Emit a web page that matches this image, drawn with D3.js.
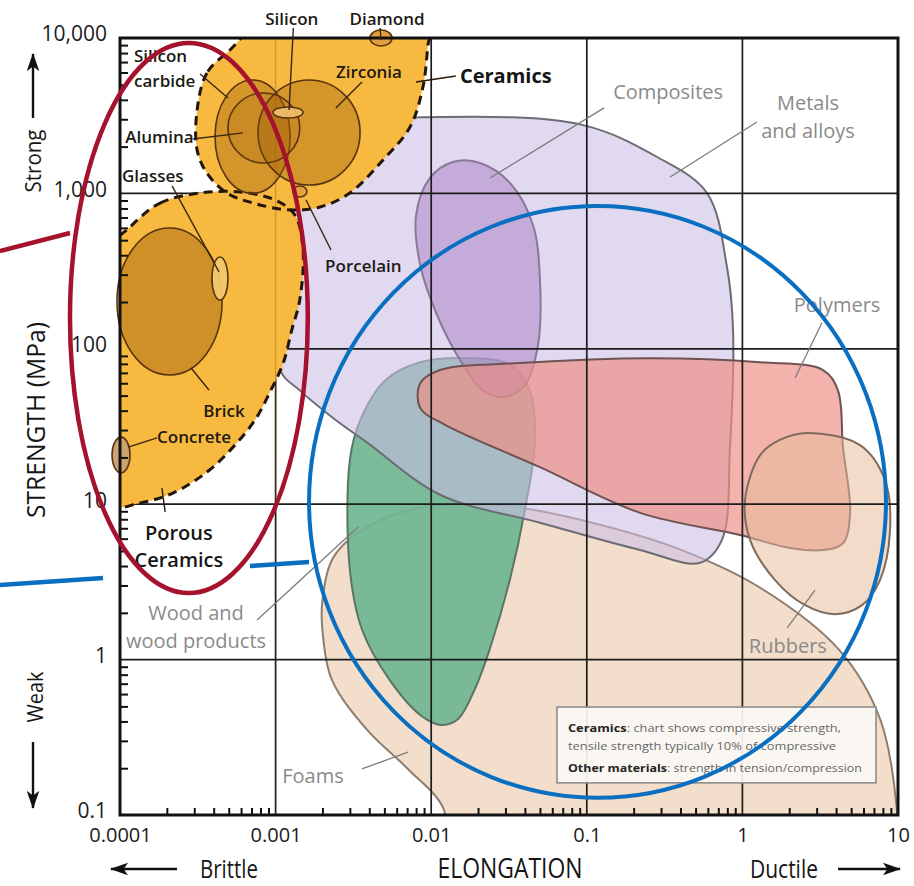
<!DOCTYPE html>
<html>
<head>
<meta charset="utf-8">
<script src="https://cdn.jsdelivr.net/npm/d3@7"></script>
<style>
  body { margin: 0; background: #ffffff; }
  svg { display: block; font-family: "Open Sans", "DejaVu Sans", sans-serif; }
</style>
</head>
<body>
<svg id="chart" width="914" height="886"></svg>
<script>
// ---------- axis ticks ----------
const elongTicks = [1e-4, 1e-3, 1e-2, 0.1, 1, 10];
const elongTickLabels = ["0.0001", "0.001", "0.01", "0.1", "1", "10"];
const strengthTicks = [0.1, 1, 10, 100, 1000, 10000];
const strengthTickLabels = ["0.1", "1", "10", "100", "1,000", "10,000"];

// ---------- material family envelopes: [elongation, strength MPa] ----------
const foams = [[0.002,2.4],[0.0024,4.7],[0.0047,7.9],[0.0114,9.9],[0.037,9.5],[0.12,7.4],[0.4,5.1],[1.3,2.9],[4.2,1.15],[7.7,0.41],[9.9,0.1],[9.9,0.05],[0.013,0.05],[0.012,0.11],[0.007,0.2],[0.0039,0.35],[0.0023,0.74],[0.002,1.55]];
const wood = [[0.003,19.2],[0.0035,34.8],[0.0051,63],[0.0085,82],[0.0178,87],[0.032,79],[0.043,54],[0.0465,26],[0.04,9.2],[0.032,3.25],[0.024,1.2],[0.019,0.64],[0.0147,0.41],[0.0114,0.38],[0.0085,0.44],[0.0054,0.74],[0.0036,1.55],[0.003,3.8]];
const metals = [[0.00107,73],[0.00104,373],[0.00143,1640],[0.003,2750],[0.0114,3100],[0.0946,2750],[0.283,1715],[0.592,1006],[0.796,336],[0.871,132],[0.832,23.3],[0.739,5.9],[0.534,4.2],[0.22,5.07],[0.05,7.6],[0.0114,11.5],[0.0039,24.8],[0.00234,35.9],[0.00143,54]];
const composites = [[0.0138,1592],[0.0098,1256],[0.008,726],[0.0085,346],[0.0109,165],[0.0153,85],[0.0215,54],[0.0298,49],[0.0401,58.5],[0.0486,106],[0.05,277],[0.0451,626],[0.0321,1167],[0.0206,1570]];
const polymers = [[0.0085,60],[0.0114,73],[0.0372,81],[0.255,87],[1.3,82],[3.3,73],[4.11,54],[4.43,23.3],[4.92,8.8],[4.43,5.6],[3.3,5.07],[2.02,5.23],[0.966,6.34],[0.22,8.8],[0.05,17.3],[0.0123,32.4],[0.0085,41.6]];
const rubbers = [[2.64,28.7],[5.7,24],[8.25,14.3],[8.89,6.8],[7.66,3.25],[5.87,2.24],[3.94,1.96],[2.53,2.24],[1.62,3.25],[1.12,5.9],[1.04,10.6],[1.3,20.7],[1.74,25.9]];
const ceramics = [[5.09e-4,8370],[3.62e-4,5960],[3.13e-4,3440],[3.13e-4,1900],[3.62e-4,1350],[4.87e-4,1006],[7.16e-4,867],[1.24e-3,782],[1.93e-3,817],[3.0e-3,1006],[4.9e-3,1640],[7.31e-3,2675],[8.85e-3,4840],[9.53e-3,9015],[9.83e-3,12100],[7.94e-4,12100]];
const porousCeramics = [[1.16e-4,608],[1.81e-4,867],[3.27e-4,1006],[5.9e-4,1021],[9.91e-4,907],[1.33e-3,726],[1.5e-3,432],[1.43e-3,206],[1.27e-3,132],[1.12e-3,81],[9.2e-4,52.7],[7.37e-4,34.8],[5.33e-4,23.3],[3.62e-4,16.1],[2.19e-4,11.8],[1.35e-4,10.2],[8.63e-5,9.9],[8.63e-5,432]];

// ---------- individual ceramics: elongation range, strength range ----------
const ceramicNames = ["Brick", "Silicon carbide", "Zirconia", "Alumina", "Silicon", "Glasses", "Porcelain", "Diamond", "Concrete"];
const ceramicElong = [[9.56e-5,4.53e-4],[4.08e-4,1.24e-3],[7.71e-4,3.49e-3],[4.94e-4,1.43e-3],[9.62e-4,1.5e-3],[3.9e-4,4.94e-4],[1.29e-3,1.59e-3],[4.04e-3,5.6e-3],[8.89e-5,1.16e-4]];
const ceramicStrength = [[67.8,599],[1000,5370],[1132,5370],[1570,4430],[3057,3597],[206,390],[948,1117],[8890,11260],[15.9,27]];

// ---------- labels: lines, anchor point [elongation, strength] ----------
const darkLabelText = [["Silicon"],["Diamond"],["Silicon","carbide"],["Zirconia"],["Alumina"],["Glasses"],["Porcelain"],["Brick"],["Concrete"]];
const darkLabelAt = [[1.27e-3,12100],[5.2e-3,12100],[1.23e-4,7010],[3.98e-3,5530],[1.08e-4,2110],[1.03e-4,1184],[2.08e-3,312],[4.66e-4,36.4],[1.73e-4,24.8]];
const darkLabelAnchor = ["middle","middle","start","middle","start","start","start","middle","start"];
const darkLeaders = [[[1.3e-3,11600],[1.22e-3,3440]],[[4.69e-3,11600],[4.76e-3,9710]],[[3.27e-4,5870],[4.94e-4,4110]],[[3.59e-3,5210],[2.44e-3,3550]],[[2.94e-4,2240],[6.17e-4,2450]],[[2.16e-4,1117],[4.33e-4,312]],[[2.27e-3,432],[1.57e-3,907]],[[3.73e-4,54.3],[2.86e-4,75.2]],[[1.73e-4,26.7],[1.13e-4,23.3]]];

const groupLabelText = [["Ceramics"],["Porous","Ceramics"]];
const groupLabelAt = [[1.53e-2,5130],[2.39e-4,5.89]];
const groupLabelAnchor = ["start","middle"];
const groupLeaders = [[[7.98e-3,5210],[1.44e-2,5690]],[[1.86e-4,12.7],[1.95e-4,8.91]]];

const familyLabelText = [["Composites"],["Metals","and alloys"],["Polymers"],["Rubbers"],["Wood and","wood products"],["Foams"]];
const familyLabelAt = [[0.333,4050],[2.64,3440],[4.06,173],[1.96,1.1],[3.08e-4,1.8],[1.74e-3,0.161]];
const familyLeaders = [[[0.129,3550],[0.0239,1256]],[[1.24,2880],[0.343,1276]],[[3.25,147],[2.18,64.9]],[[2.93,2.8],[1.94,1.6]],[[7.6e-4,1.8],[3.39e-3,7.13]],[[3.59e-3,0.198],[7.1e-3,0.254]]];

// ---------- note ----------
const noteCorners = [[0.0643,0.495],[7.22,0.161]];
const noteLines = [
  [["Ceramics", true], [": chart shows compressive strength,", false]],
  [["tensile strength typically 10% of compressive", false]],
  [["Other materials", true], [": strength in tension/compression", false]]
];

// ---------- highlight marks ----------
const redRingElong = [4.77e-5, 1.61e-3];
const redRingStrength = [2.68, 9290];
const redPointer = [[1.69e-5,426],[4.77e-5,556]];
const blueRingElong = [1.64e-3, 8.37];
const blueRingStrength = [0.129, 830];
const bluePointers = [[[1.69e-5,3.02],[7.78e-5,3.35]],[[6.84e-4,4.0],[1.64e-3,4.25]]];

// ---------- scales ----------
const x = d3.scaleLog().domain([1e-4, 10]).range([120, 898]);
const y = d3.scaleLog().domain([0.1, 10000]).range([815, 38]);
const [x0, x1] = x.range();
const [y1, y0] = y.range();

const svg = d3.select("#chart");
const defs = svg.append("defs");
defs.append("clipPath").attr("id", "plotClip")
  .append("rect").attr("x", x0).attr("y", y0).attr("width", x1 - x0).attr("height", y1 - y0);

defs.append("marker").attr("id", "arrowHead")
  .attr("viewBox", "0 0 20 14").attr("refX", 19).attr("refY", 7)
  .attr("markerUnits", "userSpaceOnUse").attr("markerWidth", 18).attr("markerHeight", 13)
  .attr("orient", "auto")
  .append("path").attr("d", "M0,0 L20,7 L0,14 L5,7 Z").attr("fill", "#111");

const outline = d3.line()
  .x(d => x(d[0])).y(d => y(d[1]))
  .curve(d3.curveCatmullRomClosed.alpha(0.5));

// ---------- family envelopes ----------
const regions = svg.append("g").attr("clip-path", "url(#plotClip)");
const families = [
  { pts: foams,      fill: "#f2decb", op: 1.0,  stroke: "#8e7d6e" },
  { pts: wood,       fill: "#6fb591", op: 0.92, stroke: "#5a7566" },
  { pts: metals,     fill: "#cbbde6", op: 0.58, stroke: "#6c6c74" },
  { pts: composites, fill: "#a880c4", op: 0.52, stroke: "#8a7897" },
  { pts: polymers,   fill: "#ef8d84", op: 0.68, stroke: "#6e5352" },
  { pts: rubbers,    fill: "#e8bd9c", op: 0.55, stroke: "#7f6a5c" }
];
regions.selectAll("path.family").data(families).join("path")
  .attr("class", "family")
  .attr("d", d => outline(d.pts))
  .attr("fill", d => d.fill).attr("fill-opacity", d => d.op)
  .attr("stroke", d => d.stroke).attr("stroke-width", 2);

// ---------- grid ----------
const grid = svg.append("g");
grid.selectAll("line.gx").data(elongTicks.slice(1, -1)).join("line")
  .attr("x1", d => x(d)).attr("x2", d => x(d)).attr("y1", y0).attr("y2", y1)
  .attr("stroke", "#1c1c1c").attr("stroke-width", 1.7);
grid.selectAll("line.gy").data(strengthTicks.slice(1, -1)).join("line")
  .attr("y1", d => y(d)).attr("y2", d => y(d)).attr("x1", x0).attr("x2", x1)
  .attr("stroke", "#1c1c1c").attr("stroke-width", 1.7);

// ---------- ceramics zones ----------
const cer = svg.append("g").attr("clip-path", "url(#plotClip)");
[ceramics, porousCeramics].forEach(pts => {
  cer.append("path").attr("d", outline(pts)).attr("fill", "#f7b940");
});
// the 0.001 grid line shows faintly through the ceramics zones
cer.append("line").attr("x1", x(1e-3)).attr("x2", x(1e-3)).attr("y1", y0).attr("y2", y(10))
  .attr("stroke", "#8a5a10").attr("stroke-opacity", 0.35).attr("stroke-width", 1.3);
[ceramics, porousCeramics].forEach(pts => {
  cer.append("path").attr("d", outline(pts))
    .attr("fill", "none").attr("stroke", "#24170a")
    .attr("stroke-width", 3).attr("stroke-dasharray", "9,6");
});

const ceramicFill = {
  "Brick": ["#a0600c", 0.45], "Silicon carbide": ["#a0600c", 0.4], "Zirconia": ["#a0600c", 0.4],
  "Alumina": ["#a0600c", 0.18], "Silicon": ["#f0c070", 0.9], "Glasses": ["#f2c86e", 0.95],
  "Porcelain": ["#e5a23c", 1], "Diamond": ["#e0a040", 1], "Concrete": ["#c9a070", 0.95]
};
const ell = svg.append("g");
ell.selectAll("ellipse").data(ceramicNames).join("ellipse")
  .attr("cx", (d, i) => (x(ceramicElong[i][0]) + x(ceramicElong[i][1])) / 2)
  .attr("cy", (d, i) => (y(ceramicStrength[i][0]) + y(ceramicStrength[i][1])) / 2)
  .attr("rx", (d, i) => (x(ceramicElong[i][1]) - x(ceramicElong[i][0])) / 2)
  .attr("ry", (d, i) => (y(ceramicStrength[i][0]) - y(ceramicStrength[i][1])) / 2)
  .attr("fill", d => ceramicFill[d][0]).attr("fill-opacity", d => ceramicFill[d][1])
  .attr("stroke", "#5a3410").attr("stroke-width", 1.6);

// ---------- axes: minor ticks, labels, frame ----------
const minorX = [], minorY = [];
for (let e = -4; e < 1; e++) for (let k = 2; k <= 9; k++) minorX.push(k * Math.pow(10, e));
for (let e = -1; e < 4; e++) for (let k = 2; k <= 9; k++) minorY.push(k * Math.pow(10, e));

const axB = svg.append("g").attr("transform", `translate(0,${y1})`)
  .call(d3.axisBottom(x).tickValues(minorX).tickSize(-7).tickFormat(""));
const axL = svg.append("g").attr("transform", `translate(${x0},0)`)
  .call(d3.axisLeft(y).tickValues(minorY).tickSize(-8).tickFormat(""));
[axB, axL].forEach(g => {
  g.select(".domain").remove();
  g.selectAll(".tick line").attr("stroke", "#111").attr("stroke-width", 2);
});

const labB = svg.append("g").attr("transform", `translate(0,${y1})`)
  .call(d3.axisBottom(x).tickValues(elongTicks).tickSize(0).tickPadding(13)
    .tickFormat((d, i) => elongTickLabels[i]));
const labL = svg.append("g").attr("transform", `translate(${x0},0)`)
  .call(d3.axisLeft(y).tickValues(strengthTicks).tickSize(0).tickPadding(13)
    .tickFormat((d, i) => strengthTickLabels[i]));
[labB, labL].forEach(g => {
  g.select(".domain").remove();
  g.attr("font-family", null).attr("font-size", null);
  g.selectAll("text").attr("font-size", 21).attr("fill", "#1b1b1b");
});
labL.selectAll("text").attr("dy", "0.14em");
labB.selectAll("text").attr("font-size", 20);

svg.append("rect").attr("x", x0).attr("y", y0).attr("width", x1 - x0).attr("height", y1 - y0)
  .attr("fill", "none").attr("stroke", "#111").attr("stroke-width", 3);

// ---------- leader lines and labels ----------
const seg = (g, pairs, color, w) => g.selectAll(null).data(pairs).join("line")
  .attr("x1", d => x(d[0][0])).attr("y1", d => y(d[0][1]))
  .attr("x2", d => x(d[1][0])).attr("y2", d => y(d[1][1]))
  .attr("stroke", color).attr("stroke-width", w);

const lab = svg.append("g");
seg(lab, darkLeaders, "#3b2610", 1.4);
seg(lab, groupLeaders, "#2a1a0a", 1.4);
seg(lab, familyLeaders, "#7c7c7c", 1.3);

function multiLine(g, lines, at, anchor, size, weight, color, gap) {
  const t = g.append("text")
    .attr("x", x(at[0])).attr("y", y(at[1]))
    .attr("text-anchor", anchor).attr("font-size", size)
    .attr("font-weight", weight).attr("fill", color);
  lines.forEach((s, i) => t.append("tspan")
    .attr("x", x(at[0])).attr("dy", i === 0 ? 0 : gap).text(s));
}
darkLabelText.forEach((lines, i) =>
  multiLine(lab, lines, darkLabelAt[i], darkLabelAnchor[i], 17, 600, "#201a14", 25));
groupLabelText.forEach((lines, i) =>
  multiLine(lab, lines, groupLabelAt[i], groupLabelAnchor[i], 20, i === 0 ? 700 : 600, "#161616", 27));
familyLabelText.forEach((lines, i) =>
  multiLine(lab, lines, familyLabelAt[i], "middle", 20, 400, "#8a8a8a", 28));

// ---------- note ----------
const nx = x(noteCorners[0][0]), ny = y(noteCorners[0][1]);
const nw = x(noteCorners[1][0]) - nx, nh = y(noteCorners[1][1]) - ny;
svg.append("rect").attr("x", nx).attr("y", ny).attr("width", nw).attr("height", nh)
  .attr("fill", "#fbf9f6").attr("fill-opacity", 0.92)
  .attr("stroke", "#8c8c8c").attr("stroke-width", 1.6);
const noteBase = [25, 43, 65], noteLen = [273, 268, 294];
noteLines.forEach((parts, i) => {
  const t = svg.append("text").attr("x", nx + 11).attr("y", ny + noteBase[i])
    .attr("font-size", 11).attr("textLength", noteLen[i]).attr("lengthAdjust", "spacingAndGlyphs");
  parts.forEach(([s, bold]) => t.append("tspan").text(s)
    .attr("font-weight", bold ? 700 : 400).attr("fill", bold ? "#222" : "#666"));
});

// ---------- axis titles ----------
const titles = svg.append("g").attr("fill", "#161616");
titles.append("text").attr("transform", "translate(45,420) rotate(-90)")
  .attr("text-anchor", "middle").attr("font-size", 25)
  .attr("textLength", 196).attr("lengthAdjust", "spacingAndGlyphs").text("STRENGTH (MPa)");
titles.append("text").attr("transform", "translate(41,161) rotate(-90)")
  .attr("text-anchor", "middle").attr("font-size", 22)
  .attr("textLength", 63).attr("lengthAdjust", "spacingAndGlyphs").text("Strong");
titles.append("text").attr("transform", "translate(43,697) rotate(-90)")
  .attr("text-anchor", "middle").attr("font-size", 22)
  .attr("textLength", 51).attr("lengthAdjust", "spacingAndGlyphs").text("Weak");
titles.append("text").attr("x", 200).attr("y", 878).attr("font-size", 25)
  .attr("textLength", 58).attr("lengthAdjust", "spacingAndGlyphs").text("Brittle");
titles.append("text").attr("x", 510).attr("y", 878).attr("text-anchor", "middle").attr("font-size", 28)
  .attr("textLength", 145).attr("lengthAdjust", "spacingAndGlyphs").text("ELONGATION");
titles.append("text").attr("x", 750).attr("y", 878).attr("font-size", 25)
  .attr("textLength", 68).attr("lengthAdjust", "spacingAndGlyphs").text("Ductile");

const arrows = [[33,118,33,54],[33,742,33,808],[177,869,111,869],[838,869,900,869]];
svg.append("g").selectAll("line").data(arrows).join("line")
  .attr("x1", d => d[0]).attr("y1", d => d[1]).attr("x2", d => d[2]).attr("y2", d => d[3])
  .attr("stroke", "#111").attr("stroke-width", 2.4).attr("marker-end", "url(#arrowHead)");

// ---------- highlight rings ----------
const hi = svg.append("g").attr("fill", "none");
hi.append("ellipse")
  .attr("cx", (x(redRingElong[0]) + x(redRingElong[1])) / 2)
  .attr("cy", (y(redRingStrength[0]) + y(redRingStrength[1])) / 2)
  .attr("rx", (x(redRingElong[1]) - x(redRingElong[0])) / 2)
  .attr("ry", (y(redRingStrength[0]) - y(redRingStrength[1])) / 2)
  .attr("stroke", "#a5122e").attr("stroke-width", 4.5);
seg(hi, [redPointer], "#a5122e", 4.5);
hi.append("ellipse")
  .attr("cx", (x(blueRingElong[0]) + x(blueRingElong[1])) / 2)
  .attr("cy", (y(blueRingStrength[0]) + y(blueRingStrength[1])) / 2)
  .attr("rx", (x(blueRingElong[1]) - x(blueRingElong[0])) / 2)
  .attr("ry", (y(blueRingStrength[0]) - y(blueRingStrength[1])) / 2)
  .attr("stroke", "#0a6fc1").attr("stroke-width", 4);
seg(hi, bluePointers, "#0a6fc1", 4.5);
</script>
</body>
</html>
